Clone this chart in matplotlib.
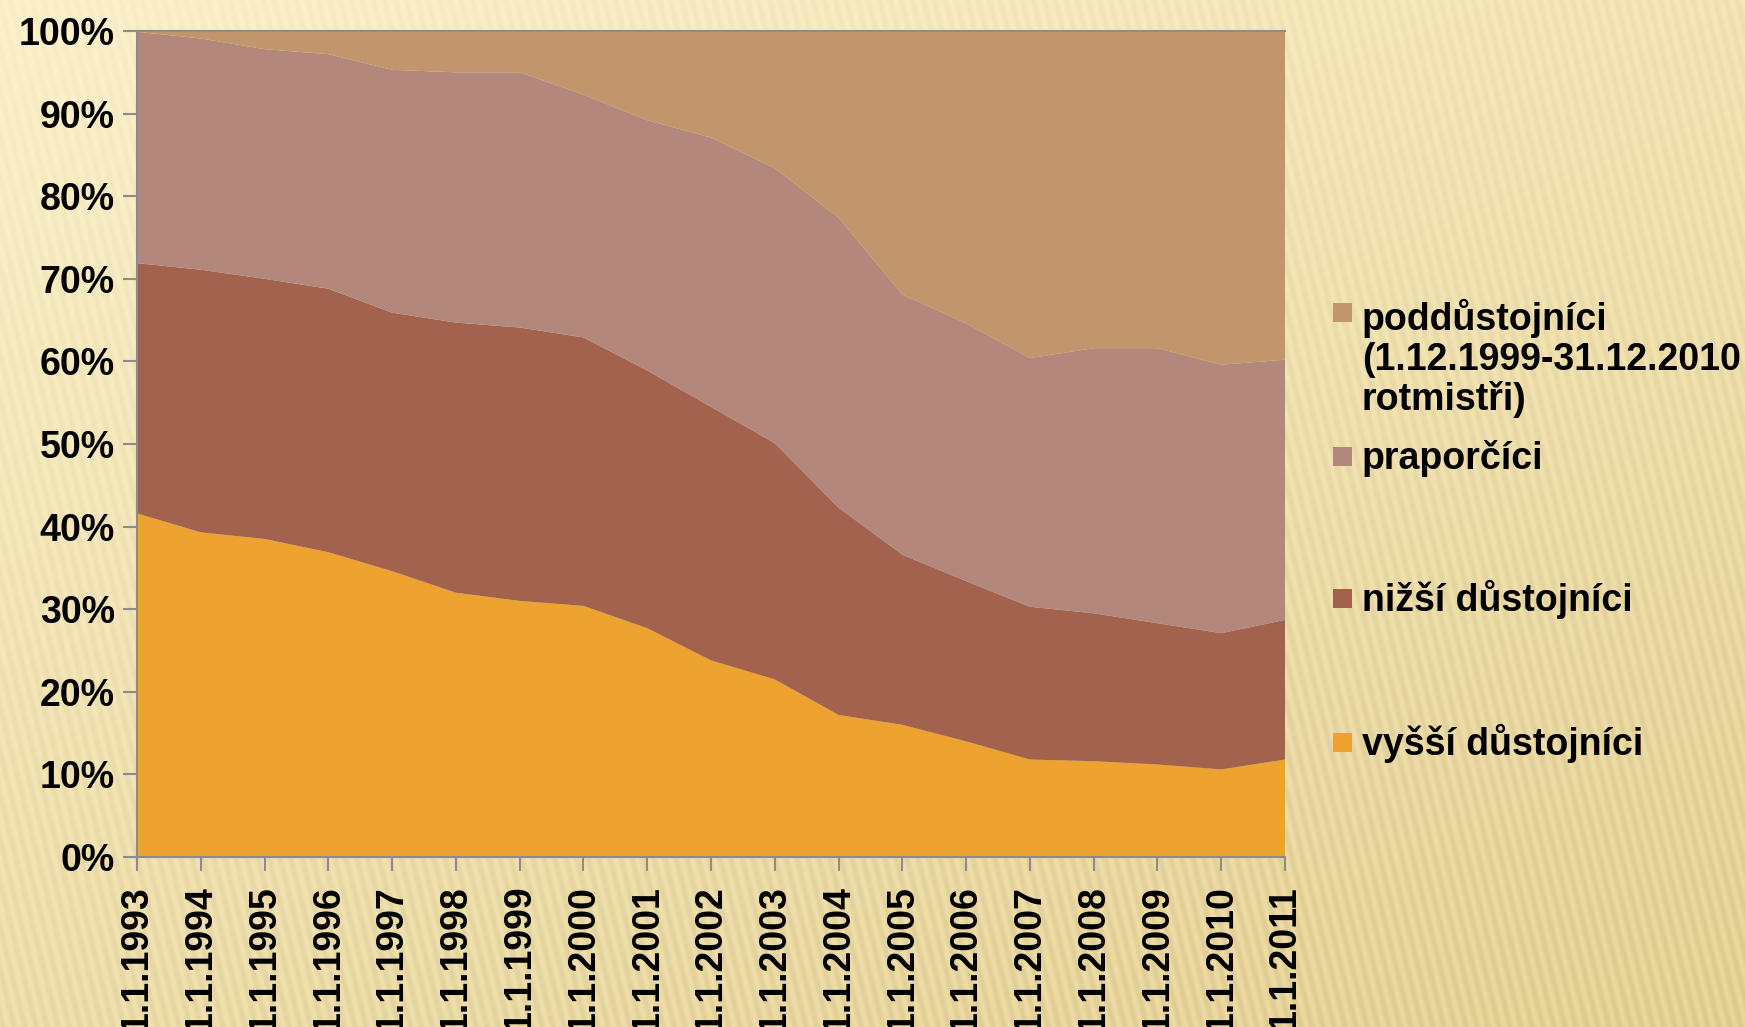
import numpy as np
import matplotlib.pyplot as plt
from matplotlib.patches import Rectangle

dates = ['1.1.1993', '1.1.1994', '1.1.1995', '1.1.1996', '1.1.1997', '1.1.1998',
         '1.1.1999', '1.1.2000', '1.1.2001', '1.1.2002', '1.1.2003', '1.1.2004',
         '1.1.2005', '1.1.2006', '1.1.2007', '1.1.2008', '1.1.2009', '1.1.2010',
         '1.1.2011']

# podily v %
vyssi = [41.6, 39.3, 38.5, 36.9, 34.6, 32.0, 31.0, 30.4, 27.7, 23.8, 21.5,
         17.2, 16.0, 14.0, 11.8, 11.6, 11.2, 10.6, 11.8]
nizsi = [30.3, 31.8, 31.5, 31.9, 31.3, 32.7, 33.1, 32.5, 31.2, 30.7, 28.6,
         25.1, 20.6, 19.4, 18.5, 17.9, 17.1, 16.5, 16.9]
praporcici = [28.0, 28.0, 27.8, 28.4, 29.4, 30.3, 30.9, 29.4, 30.3, 32.6, 33.3,
              35.1, 31.5, 31.2, 30.1, 32.1, 33.3, 32.5, 31.5]
poddustojnici = [0.1, 0.9, 2.2, 2.8, 4.7, 5.0, 5.0, 7.7, 10.8, 12.9, 16.6,
                 22.6, 31.9, 35.4, 39.6, 38.4, 38.4, 40.4, 39.8]

labels = ['vyšší důstojníci', 'nižší důstojníci', 'praporčíci',
          'poddůstojníci\n(1.12.1999-31.12.2010\nrotmistři)']
colors = ['#EEA230', '#A3624D', '#B3887C', '#C2966C']

plt.rcParams['font.family'] = ['Liberation Sans', 'DejaVu Sans']
plt.rcParams['font.weight'] = 'bold'

fig = plt.figure(figsize=(17.45, 10.27), dpi=100)

# pozadi - kremovy prechod s jemnymi sikmymi prouzky
bg = fig.add_axes([0, 0, 1, 1], zorder=-10)
h, w = 1027, 1745
yy, xx = np.mgrid[0:h, 0:w]
t = 0.55 * (yy / h) + 0.35 * (xx / w)
stripes = 0.5 + 0.5 * np.sin(2 * np.pi * (xx + 0.25 * (h - yy)) / 11.0)
light = np.array([253, 242, 204]) / 255
dark = np.array([232, 212, 150]) / 255
img = light[None, None, :] * (1 - t[..., None]) + dark[None, None, :] * t[..., None]
img = img - 0.045 * stripes[..., None] * (0.4 + t[..., None])
bg.imshow(np.clip(img, 0, 1), aspect='auto', extent=[0, 1, 0, 1])
bg.axis('off')

ax = fig.add_axes([137 / 1745, 1 - 857 / 1027, 1148 / 1745, 826 / 1027])
x = np.arange(len(dates))
ax.stackplot(x, vyssi, nizsi, praporcici, poddustojnici, colors=colors,
             linewidth=0)
ax.set_xlim(0, len(dates) - 1)
ax.set_ylim(0, 100)
ax.patch.set_alpha(0)

ax.set_yticks(range(0, 101, 10))
ax.set_yticklabels([f'{v}%' for v in range(0, 101, 10)], fontsize=27,
                   fontweight='bold')
ax.set_xticks(x)
ax.set_xticklabels(dates, rotation=90, fontsize=27, fontweight='bold')
ax.tick_params(axis='both', color='#8C8C8C', length=10, width=1.5)
ax.tick_params(axis='y', pad=6)
ax.tick_params(axis='x', pad=10)
for s in ['left', 'bottom', 'top']:
    ax.spines[s].set_color('#8C8C8C')
    ax.spines[s].set_linewidth(1.5)
ax.spines['right'].set_visible(False)

# legenda rucne (poradi shora dolu), yb = uctaří prvniho radku
baselines = [325, 469, 611, 755]
line_h = 42.5
for lab, col, yb in zip(labels[::-1], colors[::-1], baselines):
    fig.patches.append(Rectangle((1333 / 1745, 1 - (yb - 3) / 1027), 19 / 1745,
                                 19 / 1027, facecolor=col, edgecolor='none',
                                 transform=fig.transFigure))
    last = yb + line_h * lab.count('\n')
    fig.text(1362 / 1745, 1 - last / 1027, lab, fontsize=27, fontweight='bold',
             va='baseline', ha='left', linespacing=1.12)

fig.savefig('out.png', dpi=100)
